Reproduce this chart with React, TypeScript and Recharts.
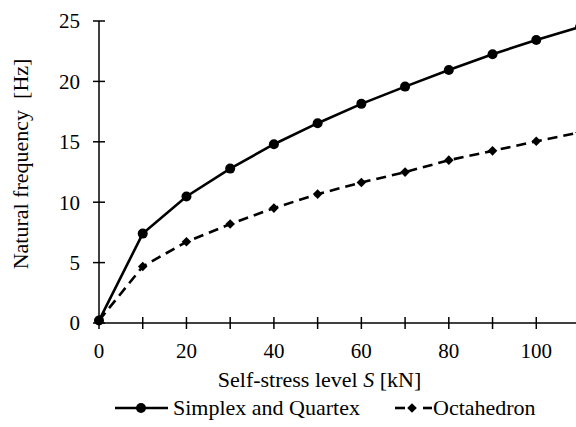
import React from 'react';
import { LineChart, Line, XAxis, YAxis } from 'recharts';

// Self-stress level S [kN]
const stressLevels = [0, 10, 20, 30, 40, 50, 60, 70, 80, 90, 100, 110];
// Natural frequency [Hz]
const simplexQuartex = [0.2, 7.4, 10.47, 12.78, 14.8, 16.54, 18.14, 19.57, 20.95, 22.25, 23.43, 24.5];
const octahedron = [0.2, 4.68, 6.72, 8.19, 9.51, 10.67, 11.63, 12.49, 13.48, 14.25, 15.04, 15.78];

const xTicks = [0, 10, 20, 30, 40, 50, 60, 70, 80, 90, 100, 110];
const xLabelled = [0, 20, 40, 60, 80, 100];
const yTicks = [0, 5, 10, 15, 20, 25];

const seriesNames = ['Simplex and Quartex', 'Octahedron'];

const data = stressLevels.map((s, i) => ({
  s,
  simplex: simplexQuartex[i],
  octa: octahedron[i],
}));

const FONT = 'Liberation Serif, Tinos, DejaVu Serif, Times New Roman, serif';
const INK = '#000';

const XTick = (props: any) => {
  const { x, y, payload } = props;
  const show = xLabelled.includes(payload.value);
  return (
    <g>
      <line x1={x} x2={x} y1={y - 6} y2={y + 6} stroke={INK} strokeWidth={1.5} />
      {show && (
        <text x={x} y={y + 35} textAnchor="middle" style={{ fontFamily: FONT, fontSize: 21 }} fill={INK}>
          {payload.value}
        </text>
      )}
    </g>
  );
};

const YTick = (props: any) => {
  const { x, y, payload } = props;
  return (
    <g>
      <line x1={x - 6} x2={x + 6} y1={y} y2={y} stroke={INK} strokeWidth={1.5} />
      <text x={x - 19} y={y} dy="0.35em" textAnchor="end" style={{ fontFamily: FONT, fontSize: 21 }} fill={INK}>
        {payload.value}
      </text>
    </g>
  );
};

const Diamond = (props: any) => {
  const { cx, cy } = props;
  if (cx == null || cy == null) return null;
  const h = 4.8;
  return <path d={`M${cx},${cy - h} L${cx + h},${cy} L${cx},${cy + h} L${cx - h},${cy} Z`} fill={INK} />;
};

const XTitle = (props: any) => {
  const { viewBox } = props;
  return (
    <text
      x={viewBox.x + viewBox.width / 2 - 20}
      y={viewBox.y + 64}
      textAnchor="middle"
      style={{ fontFamily: FONT, fontSize: 22 }}
      fill={INK}
    >
      Self-stress level <tspan fontStyle="italic">S</tspan> [kN]
    </text>
  );
};

const YTitle = (props: any) => {
  const { viewBox } = props;
  const cx = viewBox.x + 20;
  const cy = viewBox.y + viewBox.height / 2 - 8;
  return (
    <text
      x={cx}
      y={cy}
      dy="0.35em"
      transform={`rotate(-90 ${cx} ${cy})`}
      textAnchor="middle"
      fill={INK}
      style={{ whiteSpace: 'pre', fontFamily: FONT, fontSize: 22 }}
    >
      {'Natural frequency  [Hz]'}
    </text>
  );
};

export default function App() {
  return (
    <div
      style={{
        position: 'absolute',
        left: 0,
        top: 0,
        width: 576,
        height: 427,
        overflow: 'hidden',
        background: '#fff',
        fontFamily: FONT,
      }}
    >
      <LineChart width={600} height={427} data={data} margin={{ top: 21, right: 20, bottom: 0, left: 0 }}>
        <XAxis
          dataKey="s"
          type="number"
          domain={[0, 110]}
          ticks={xTicks}
          interval={0}
          height={104}
          tickSize={0}
          tickMargin={0}
          tickLine={false}
          tick={<XTick />}
          axisLine={{ stroke: INK, strokeWidth: 1.5 }}
          label={<XTitle />}
        />
        <YAxis
          type="number"
          domain={[0, 25]}
          ticks={yTicks}
          interval={0}
          width={99}
          tickSize={0}
          tickMargin={0}
          tickLine={false}
          tick={<YTick />}
          axisLine={{ stroke: INK, strokeWidth: 1.5 }}
          label={<YTitle />}
        />
        <Line
          dataKey="simplex"
          name={seriesNames[0]}
          stroke={INK}
          strokeWidth={2.6}
          dot={{ r: 5, fill: INK, stroke: INK, strokeWidth: 0 }}
          isAnimationActive={false}
        />
        <Line
          dataKey="octa"
          name={seriesNames[1]}
          stroke={INK}
          strokeWidth={2.6}
          strokeDasharray="10 6"
          dot={<Diamond />}
          isAnimationActive={false}
        />
      </LineChart>

      <div style={{ position: 'absolute', left: 0, top: 396, width: 576, height: 26, fontSize: 22, color: INK, fontFamily: FONT }}>
        <div style={{ position: 'absolute', left: 115, top: 0, display: 'flex', alignItems: 'center', whiteSpace: 'nowrap' }}>
          <svg width={55} height={24}>
            <line x1={0} x2={53} y1={12} y2={12} stroke={INK} strokeWidth={2.6} />
            <circle cx={26} cy={12} r={5} fill={INK} />
          </svg>
          <span style={{ marginLeft: 3, lineHeight: '24px' }}>{seriesNames[0]}</span>
        </div>
        <div style={{ position: 'absolute', left: 395, top: 0, display: 'flex', alignItems: 'center', whiteSpace: 'nowrap' }}>
          <svg width={38} height={24}>
            <line x1={0} x2={10} y1={12} y2={12} stroke={INK} strokeWidth={2.6} />
            <path d="M17,7.2 L21.8,12 L17,16.8 L12.2,12 Z" fill={INK} />
            <line x1={28} x2={37} y1={12} y2={12} stroke={INK} strokeWidth={2.6} />
          </svg>
          <span style={{ lineHeight: '24px' }}>{seriesNames[1]}</span>
        </div>
      </div>
    </div>
  );
}
